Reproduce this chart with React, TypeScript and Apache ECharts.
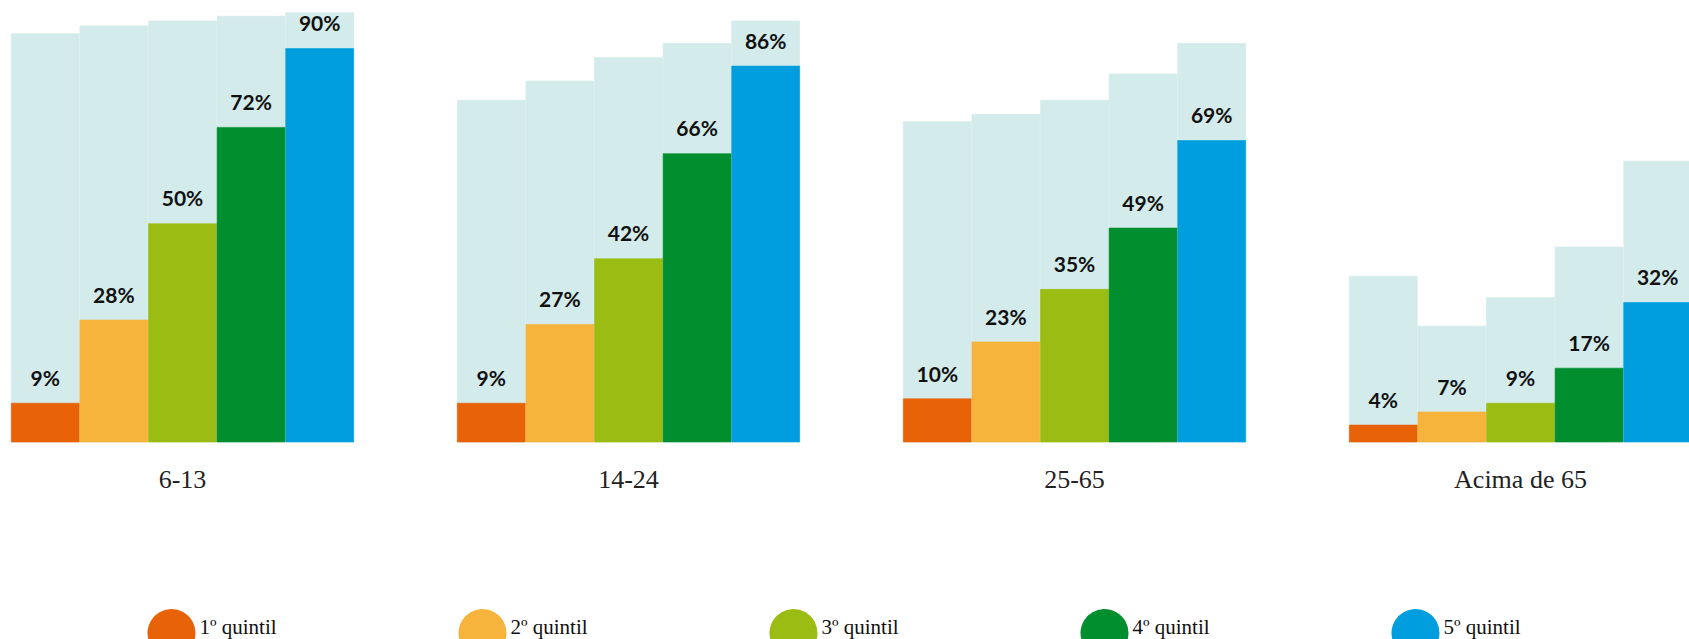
import React, { useEffect, useRef } from "react";
import * as echarts from "echarts";

const categories = ["6-13", "14-24", "25-65", "Acima de 65"];
const quintileNames = ["1º quintil", "2º quintil", "3º quintil", "4º quintil", "5º quintil"];

const q1 = [9, 9, 10, 4];
const q2 = [28, 27, 23, 7];
const q3 = [50, 42, 35, 9];
const q4 = [72, 66, 49, 17];
const q5 = [90, 86, 69, 32];

const bg1 = [93.4, 78.2, 73.3, 38.0];
const bg2 = [95.2, 82.6, 75.0, 26.6];
const bg3 = [96.3, 88.0, 78.2, 33.1];
const bg4 = [97.4, 91.2, 84.2, 44.7];
const bg5 = [98.2, 96.3, 91.2, 64.3];

const colors = ["#E86207", "#F6B43C", "#9BBD13", "#008E2F", "#009EDE"];
const bgColor = "#D4EBEB";

export default function App() {
  const ref = useRef<HTMLDivElement>(null);
  useEffect(() => {
    document.body.style.margin = "0";
    document.body.style.overflow = "hidden";
    if (!ref.current) return;
    const chart = echarts.init(ref.current, undefined, { renderer: "svg" });
    const fg = [q1, q2, q3, q4, q5];
    const bgs = [bg1, bg2, bg3, bg4, bg5];
    const series: any[] = [];
    bgs.forEach((d, i) => {
      series.push({
        type: "bar",
        name: "bg" + i,
        xAxisIndex: 1,
        data: d,
        barGap: "0%",
        barCategoryGap: "23.1%",
        itemStyle: { color: bgColor, borderColor: bgColor, borderWidth: 0.8 },
        z: 1,
        silent: true,
      });
    });
    fg.forEach((d, i) => {
      series.push({
        type: "bar",
        name: quintileNames[i],
        xAxisIndex: 0,
        data: d,
        barGap: "0%",
        barCategoryGap: "23.1%",
        itemStyle: { color: colors[i], borderColor: colors[i], borderWidth: 0.6 },
        z: 2,
        label: {
          show: true,
          position: "top",
          distance: 15,
          formatter: "{c}%",
          fontFamily: "Lato",
          fontWeight: "bold",
          fontSize: 21,
          color: "#111",
        },
      });
    });
    const legends = quintileNames.map((n, i) => ({
      data: [{ name: n, itemStyle: { color: colors[i] } }],
      left: 142.5 + i * 311,
      top: 604,
      icon: "circle",
      itemWidth: 46,
      itemHeight: 46,
      selectedMode: false,
      formatter: (name: string) => "{t|" + name + "}",
      textStyle: {
        fontFamily: "Liberation Serif",
        fontSize: 21,
        color: "#111",
        rich: {
          t: {
            fontFamily: "Liberation Serif",
            fontSize: 21,
            color: "#111",
            padding: [0, 0, 12, 0],
          },
        },
      },
    }));
    chart.setOption({
      animation: false,
      grid: {
        left: -40.5,
        top: 4.5,
        width: 1784,
        height: 437.8,
        containLabel: false,
        outerBoundsMode: "none",
      },
      xAxis: [
        {
          type: "category",
          data: categories,
          axisLine: { show: false },
          axisTick: { show: false },
          axisLabel: {
            fontFamily: "Liberation Serif",
            fontSize: 26,
            color: "#222",
            margin: 24,
          },
        },
        {
          type: "category",
          data: categories,
          show: false,
        },
      ],
      yAxis: { type: "value", min: 0, max: 100, show: false },
      legend: legends,
      series,
    });
    return () => chart.dispose();
  }, []);
  return <div ref={ref} style={{ width: 1689, height: 639 }} />;
}
